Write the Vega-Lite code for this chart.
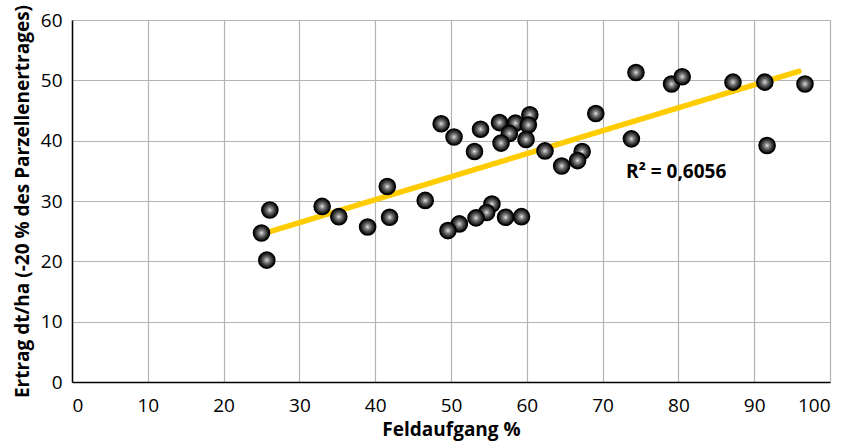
{
  "$schema": "https://vega.github.io/schema/vega-lite/v6.json",
  "width": 758,
  "height": 362,
  "autosize": {"type": "none"},
  "padding": {"left": 72, "top": 20, "right": 31, "bottom": 59},
  "background": "white",
  "config": {
    "view": {"stroke": null},
    "font": "Open Sans",
    "axis": {
      "labelFont": "Open Sans",
      "labelFontSize": 19,
      "labelColor": "#000",
      "titleFont": "Open Sans",
      "titleFontSize": 19,
      "titleFontWeight": "bold",
      "titleColor": "#000",
      "gridColor": "#b3b3b3",
      "gridWidth": 1.2,
      "gridOpacity": 1,
      "domainColor": "#000",
      "domainWidth": 1.5,
      "ticks": false
    }
  },
  "datasets": {
    "pts": [
      {"f": 25.0, "e": 24.7}, {"f": 25.7, "e": 20.2}, {"f": 26.1, "e": 28.5},
      {"f": 33.0, "e": 29.1}, {"f": 35.2, "e": 27.4}, {"f": 39.0, "e": 25.7},
      {"f": 41.6, "e": 32.4}, {"f": 41.9, "e": 27.3}, {"f": 46.6, "e": 30.1},
      {"f": 48.7, "e": 42.8}, {"f": 50.4, "e": 40.6}, {"f": 53.9, "e": 41.9},
      {"f": 53.1, "e": 38.2}, {"f": 56.4, "e": 43.0}, {"f": 58.5, "e": 42.9},
      {"f": 60.4, "e": 44.3}, {"f": 60.2, "e": 42.6}, {"f": 57.7, "e": 41.2},
      {"f": 56.6, "e": 39.6}, {"f": 59.9, "e": 40.2}, {"f": 62.4, "e": 38.3},
      {"f": 64.6, "e": 35.8}, {"f": 67.3, "e": 38.2}, {"f": 66.7, "e": 36.7},
      {"f": 69.1, "e": 44.5}, {"f": 55.4, "e": 29.5}, {"f": 54.7, "e": 28.1},
      {"f": 53.3, "e": 27.2}, {"f": 51.1, "e": 26.2}, {"f": 49.6, "e": 25.1},
      {"f": 57.2, "e": 27.3}, {"f": 59.3, "e": 27.4}, {"f": 74.4, "e": 51.3},
      {"f": 79.1, "e": 49.4}, {"f": 80.5, "e": 50.6}, {"f": 87.2, "e": 49.7},
      {"f": 91.4, "e": 49.7}, {"f": 96.7, "e": 49.4}, {"f": 73.8, "e": 40.3},
      {"f": 91.7, "e": 39.2}
    ],
    "trend": [
      {"f": 25.0, "e": 24.5},
      {"f": 95.9, "e": 51.5}
    ],
    "note": [
      {"f": 73.1, "e": 34.8, "t": "R² = 0,6056"}
    ]
  },
  "layer": [
    {
      "data": {"name": "trend"},
      "mark": {"type": "line", "color": "#FFCC00", "strokeWidth": 5.5, "strokeCap": "round"},
      "encoding": {
        "x": {
          "field": "f", "type": "quantitative",
          "scale": {"domain": [0, 100], "nice": false},
          "axis": {"values": [0,10,20,30,40,50,60,70,80,90,100], "title": "Feldaufgang %", "labelPadding": 14, "titlePadding": 5}
        },
        "y": {
          "field": "e", "type": "quantitative",
          "scale": {"domain": [0, 60], "nice": false},
          "axis": {"values": [0,10,20,30,40,50,60], "title": "Ertrag dt/ha (-20 % des Parzellenertrages)", "labelPadding": 10, "titlePadding": 8}
        }
      }
    },
    {
      "data": {"name": "pts"},
      "mark": {
        "type": "point",
        "shape": "circle",
        "filled": true,
        "size": 260,
        "opacity": 1,
        "stroke": "#000",
        "strokeWidth": 1.5,
        "fill": {
          "gradient": "radial",
          "x1": 0.5, "y1": 0.5, "x2": 0.5, "y2": 0.5, "r1": 0, "r2": 0.5,
          "stops": [
            {"offset": 0, "color": "#f0f0f0"},
            {"offset": 0.2, "color": "#a0a0a0"},
            {"offset": 0.55, "color": "#505050"},
            {"offset": 0.85, "color": "#1a1a1a"},
            {"offset": 1, "color": "#000000"}
          ]
        }
      },
      "encoding": {
        "x": {"field": "f", "type": "quantitative"},
        "y": {"field": "e", "type": "quantitative"}
      }
    },
    {
      "data": {"name": "note"},
      "mark": {"type": "text", "align": "left", "baseline": "middle", "fontSize": 19, "fontWeight": "bold", "font": "Open Sans", "color": "#000"},
      "encoding": {
        "x": {"field": "f", "type": "quantitative"},
        "y": {"field": "e", "type": "quantitative"},
        "text": {"field": "t"}
      }
    }
  ]
}
